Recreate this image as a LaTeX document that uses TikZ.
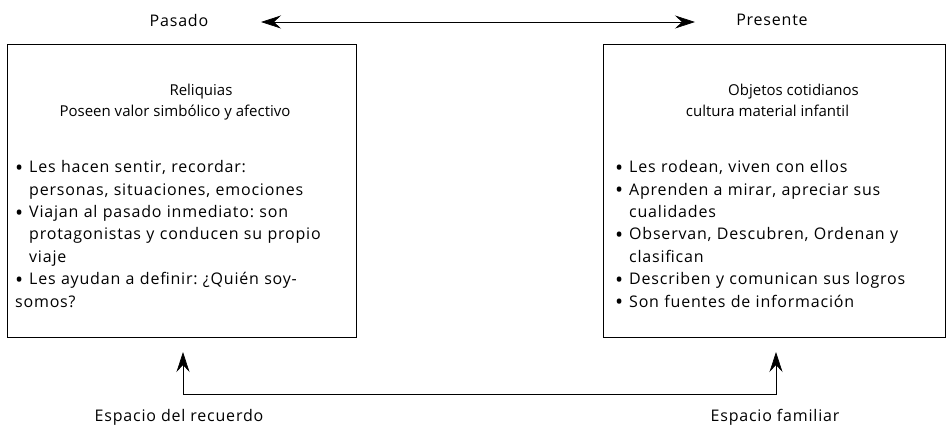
\documentclass[tikz,border=0pt]{standalone}
\usepackage{fontspec}
\setmainfont{Open Sans}
\usetikzlibrary{positioning,arrows.meta}

\newcommand{\punto}[1]{\par\hangindent=14pt\hangafter=1\noindent
  \makebox[14pt][l]{\raisebox{-2.6pt}{\scalebox{1.35}{\textbullet}}}#1}

\begin{document}
\frenchspacing
\begin{tikzpicture}
    [ x = 1pt, y = -1pt
    , panel/.style =
      { draw, line width=1pt, anchor=north west, inner sep=0pt
      , minimum height=293pt }
    , heading/.style =
      { anchor=north, inner sep=0pt
      , font=\fontsize{15}{20}\selectfont }
    , points/.style =
      { align=left, anchor=north west, inner sep=0pt, text width=330pt
      , font=\fontsize{16}{22.4}\selectfont\addfontfeatures{LetterSpace=5} }
    , tag/.style =
      { inner sep=0pt, font=\fontsize{16}{18}\selectfont\addfontfeatures{LetterSpace=5} }
    , link/.style =
      { {Stealth[length=20pt,width=13pt,inset=7pt]}-{Stealth[length=20pt,width=13pt,inset=7pt]}
      , line width=.7pt }
    ]
    \useasboundingbox (0,0) rectangle (946,429);

    % the two spaces
    \node [panel, minimum width=349pt] (reliquias) at (7,44) {};
    \node [panel, minimum width=342pt] (cotidianos) at (603,44) {};

    \node [heading] (reliquiastitle) [below=40pt of reliquias.north, xshift=19pt] {Reliquias};
    \node [heading] (reliquiassub) [below=5pt of reliquiastitle, xshift=-26pt]
      {Poseen valor simbólico y afectivo};
    \node [heading] (cotidianostitle) [below=40pt of cotidianos.north, xshift=19pt] {Objetos cotidianos};
    \node [heading] (cotidianossub) [below=5pt of cotidianostitle, xshift=-26pt]
      {cultura material infantil};

    \node [points] (reliquiaslist) [below right=106pt and 8pt of reliquias.north west]
      {\punto{Les hacen sentir, recordar:\newline personas, situaciones, emociones}
       \punto{Viajan al pasado inmediato: son\newline protagonistas y conducen su propio\newline viaje}
       \punto{Les ayudan a definir: ¿Quién soy-\newline somos?}};
    \node [points] (cotidianoslist) [below right=106pt and 12pt of cotidianos.north west]
      {\punto{Les rodean, viven con ellos}
       \punto{Aprenden a mirar, apreciar sus\newline cualidades}
       \punto{Observan, Descubren, Ordenan y\newline clasifican}
       \punto{Describen y comunican sus logros}
       \punto{Son fuentes de información}};

    % time line
    \node [tag] (pasado) at (179,20) {Pasado};
    \node [tag] (presente) at (772,20) {Presente};
    \coordinate (pasadoend) at (261,22);
    \coordinate (presenteend) at (695,22);
    \draw [link] (pasadoend) -- (presenteend);

    % spaces below
    \node [tag] (recuerdo) at (179,417) {Espacio del recuerdo};
    \node [tag] (familiar) at (775,417) {Espacio familiar};
    \coordinate (recuerdotip) at (183,352);
    \coordinate (recuerdocorner) at (183,394);
    \coordinate (familiartip) at (776,352);
    \coordinate (familiarcorner) at (776,394);
    \draw [link] (recuerdotip) -- (recuerdocorner) -- (familiarcorner) -- (familiartip);
\end{tikzpicture}
\end{document}
